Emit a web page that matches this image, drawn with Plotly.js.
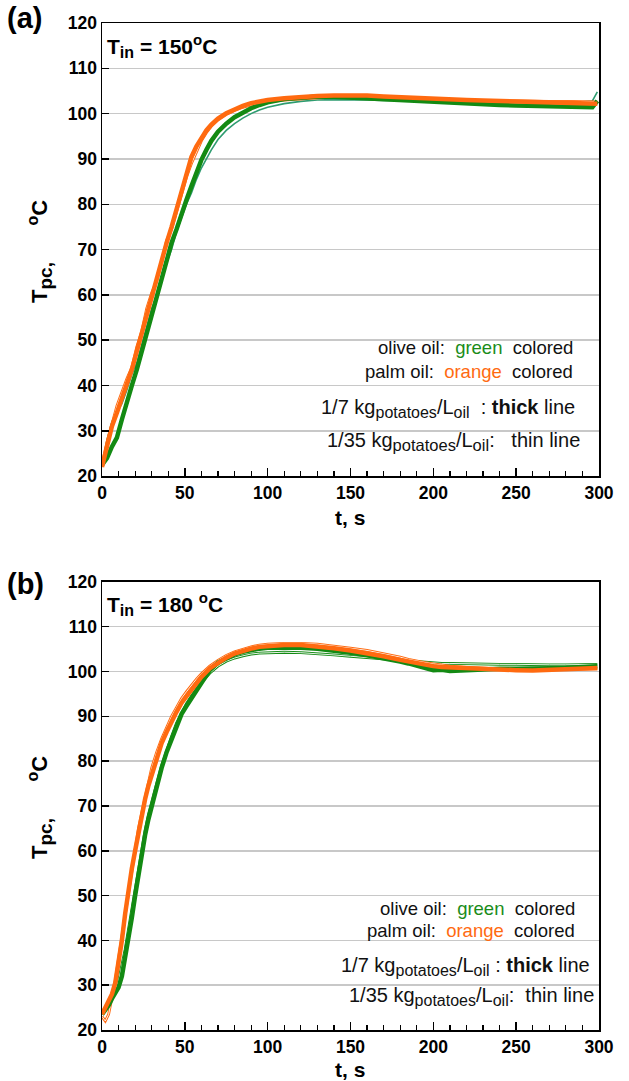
<!DOCTYPE html>
<html><head><meta charset="utf-8">
<script src="https://cdn.plot.ly/plotly-3.0.1.min.js"></script>
<style>body{margin:0;background:#fff}#c{width:629px;height:1081px}</style>
</head><body><div id="c"></div>
<script>
// ---- Panel (a): T_in = 150 °C ----
const tA = [0,3,6,9,12,15,18,21,24,27,30,33,36,39,42,45,48,51,54,57,60,63,66,70,75,80,85,90,95,100,110,120,130,140,150,160,170,180,190,200,210,220,230,240,250,260,270,280,290,296,299];
const palmThickA  = [22,26.5,31,34,37,40,43.5,47.5,51.5,56,60,63.5,67.5,71.5,75,79,83,86.8,90.5,92.8,94.8,96.3,97.6,98.9,100.1,101,101.7,102.3,102.7,103,103.4,103.7,103.9,104,104.1,104,103.8,103.6,103.5,103.3,103.1,103,102.9,102.8,102.7,102.6,102.6,102.5,102.4,102.3,102.2];
const palmThinA   = [22.5,27.5,31.5,35.5,38.5,41.5,44,48.5,52,57,60.5,63,67,72,74.5,78.5,82.5,86,89,91.5,94,95.8,97.2,98.6,99.8,100.7,101.4,101.9,102.3,102.6,103,103.3,103.5,103.6,103.6,103.5,103.4,103.3,103.2,103.1,103,102.9,102.9,102.8,102.8,102.7,102.7,102.7,102.6,102.6,102.6];
const oliveThickA = [22.5,24,26.5,28.5,32.5,36.5,40,43.5,47.5,51.5,55.5,60,64,67.5,71.5,74.5,78,81,84,87.2,89.8,92,94,96,97.8,99.2,100.3,101.2,101.9,102.5,103.2,103.6,103.8,103.7,103.5,103.3,103.1,102.9,102.7,102.5,102.4,102.2,102.1,101.9,101.8,101.7,101.7,101.6,101.5,101.4,102.8];
const oliveThinA  = [22,28,32,34,36,39,42.5,45,49,53.5,57,59.5,64,67,70,74,77,80,82.5,85.5,88,90,92,94.3,96.3,97.8,99,100,100.8,101.4,102.2,102.7,103,103.1,103.1,103,102.9,102.9,102.8,102.8,102.7,102.7,102.7,102.6,102.6,102.6,102.6,102.6,102.6,102.8,104.8];

// ---- Panel (b): T_in = 180 °C ----
const tB = [0,2,4,6,8,10,12,14,16,18,20,22,24,26,28,30,33,36,39,42,45,48,51,54,57,60,65,70,75,80,85,90,95,100,110,120,130,140,150,160,170,180,185,190,195,200,205,210,220,230,240,250,260,270,280,290,299];
const palmThickB  = [23.5,25,26.5,28,30.5,35,40,46,52,56,60,64,68,71.5,74.5,77,81,84,86.5,89,91,93,94.5,96,97.5,98.8,100.7,102,103.1,104,104.6,105.1,105.5,105.7,105.9,105.9,105.6,105.2,104.7,104.1,103.4,102.6,102.2,101.8,101.5,101.2,101,100.9,100.7,100.6,100.5,100.3,100.2,100.3,100.4,100.6,100.8];
const palmThinB   = [23,22,23.5,27,31,36,41,45,50.5,55,61,65,68.5,72,75.5,78.5,82,85,87.5,90,92,94,95.5,97,98.3,99.5,101.2,102.5,103.6,104.4,105,105.5,105.9,106.1,106.3,106.3,106.1,105.7,105.2,104.7,104,103.2,102.7,102.3,102,101.7,101.4,101.2,100.9,100.7,100.6,100.5,100.4,100.4,100.5,100.5,100.6];
const oliveThickB = [23.5,24.5,25.5,27,28.5,29.5,32,36,40,45,50,55,60,63.5,67,70,74,78.5,82,85,88,90.5,92.3,94,95.8,97.5,100.3,102,103,103.8,104.4,104.8,105.1,105.3,105.4,105.3,105.1,104.7,104.2,103.6,103,102.2,101.8,101.3,100.8,100.3,100.4,100.1,100.3,100.5,100.6,100.6,100.6,100.7,100.8,101,101.2];
const oliveThinB  = [24,25,26,27.5,29,31,34.5,38,42.5,47,52,56.5,61,64.5,68,71,75,79,82.5,85.5,88.5,90.8,92.8,94.5,96,97.5,99.6,101.2,102.3,103,103.5,103.9,104.1,104.2,104.3,104.2,104,103.7,103.4,103.1,102.8,102.5,102.4,102.2,102.1,101.9,101.8,101.8,101.7,101.7,101.6,101.6,101.5,101.5,101.5,101.5,101.6];

const yTicks = [20,30,40,50,60,70,80,90,100,110,120];
const xTicks = [0,50,100,150,200,250,300];

const GREEN = '#138a13', TEAL = '#2e9c70', ORANGE = '#ff6a10';

function tr(x, y, color, w, xa, ya){
  return {x:x, y:y, type:'scatter', mode:'lines', line:{color:color, width:w}, xaxis:xa, yaxis:ya, showlegend:false, hoverinfo:'skip'};
}
const data = [
  tr(tA, oliveThinA, TEAL, 1.6, 'x', 'y'),
  tr(tA, palmThinA, ORANGE, 2.8, 'x', 'y'),
  tr(tA, palmThinA, '#ffffff', 0.9, 'x', 'y'),
  tr(tA, oliveThickA, GREEN, 4.5, 'x', 'y'),
  tr(tA, palmThickA, ORANGE, 4.5, 'x', 'y'),
  tr(tB, oliveThinB, GREEN, 2.8, 'x2', 'y2'),
  tr(tB, oliveThinB, '#ffffff', 0.9, 'x2', 'y2'),
  tr(tB, palmThinB, ORANGE, 2.8, 'x2', 'y2'),
  tr(tB, palmThinB, '#ffffff', 0.9, 'x2', 'y2'),
  tr(tB, oliveThickB, GREEN, 4.5, 'x2', 'y2'),
  tr(tB, palmThickB, ORANGE, 4.5, 'x2', 'y2')
];

const FONT = 'Liberation Sans, Arial, Helvetica, sans-serif';
function xax(anchor){
  return {anchor:anchor, range:[0,300], tickvals:xTicks, ticktext:xTicks.map(String), ticks:'inside', ticklen:8, tickwidth:1.5, tickcolor:'#000',
    minor:{dtick:10, ticks:'inside', ticklen:5, tickwidth:1.2, tickcolor:'#000'},
    showline:true, mirror:true, linecolor:'#000', linewidth:1.5, showgrid:false, zeroline:false,
    tickfont:{family:FONT, size:17.5, color:'#000', weight:'bold'}};
}
function yax(anchor, domain){
  return {anchor:anchor, domain:domain, range:[20,120], tickvals:yTicks, ticktext:yTicks.map(String), ticks:'inside', ticklen:7, tickwidth:1.5, tickcolor:'#000',
    showline:true, mirror:true, linecolor:'#000', linewidth:1.5, showgrid:true, gridcolor:'#c8c8c8', gridwidth:1.5, zeroline:false,
    tickfont:{family:FONT, size:17.5, color:'#000', weight:'bold'}};
}

function ann(text, x, y, xref, yref, opts){
  return Object.assign({text:text, x:x, y:y, xref:xref, yref:yref, showarrow:false, xanchor:'center', yanchor:'middle', font:{family:FONT, size:18.5, color:'#111'}}, opts||{});
}
const NB = '\u00a0';
const sub = (s, px) => '<sub><span style="font-size:' + px + 'px">' + s + '</span></sub>';
const kgFont = {family:FONT, size:20, color:'#111'};
const kgLine7a  = '1/7 kg' + sub('potatoes',16) + '/L' + sub('oil',16) + NB + NB + ': <b>thick</b> line';
const kgLine7b  = '1/7 kg' + sub('potatoes',16) + '/L' + sub('oil',16) + ' : <b>thick</b> line';
const kgLine35a = '1/35 kg' + sub('potatoes',16.5) + '/L' + sub('oil',16.5) + ':' + NB + NB + NB + 'thin line';
const kgLine35b = '1/35 kg' + sub('potatoes',16) + '/L' + sub('oil',16) + ':' + NB + NB + 'thin line';
const colorLine = (oil, word, col) => oil + ':' + NB + NB + '<span style="color:' + col + '">' + word + '</span>' + NB + NB + 'colored';
const tinText = v => '<b>T<sub><span style="font-size:16px">in</span></sub> = ' + v + '<sup><span style="font-size:15px">o</span></sup>C</b>';
const yTitle = '<b>T' + sub('pc,', 19) + NB + NB + NB + NB + NB + NB + '<sup><span style="font-size:16px">o</span></sup>C</b>';
const titleFont = {family:FONT, size:21, color:'#000'};
const annotations = [
  ann('<b>(a)</b>', 5, 18, 'paper', 'paper', {xanchor:'left', font:{family:FONT,size:29,color:'#000'}}),
  ann('<b>(b)</b>', 5, 584, 'paper', 'paper', {xanchor:'left', font:{family:FONT,size:29,color:'#000'}}),
  ann(tinText('150'), 2, 115, 'x', 'y', {xanchor:'left', font:titleFont}),
  ann(tinText('180 '), 2, 115, 'x2', 'y2', {xanchor:'left', font:titleFont}),
  ann(yTitle, 40, 252, 'paper', 'paper', {textangle:-90, font:{family:FONT, size:22, color:'#000'}}),
  ann(yTitle, 40, 808, 'paper', 'paper', {textangle:-90, font:{family:FONT, size:22, color:'#000'}}),
  ann('<b>t, s</b>', 350, 517, 'paper', 'paper', {font:titleFont}),
  ann('<b>t, s</b>', 350, 1069, 'paper', 'paper', {font:titleFont}),
  // notes panel a
  ann(colorLine('olive oil', 'green', '#1a8c1a'), 285.5, 48.3, 'x', 'y', {xanchor:'right'}),
  ann(colorLine('palm oil', 'orange', '#ff6a10'), 285.5, 43, 'x', 'y', {xanchor:'right'}),
  ann(kgLine7a, 286.5, 35, 'x', 'y', {xanchor:'right', font:kgFont}),
  ann(kgLine35a, 289.5, 27.7, 'x', 'y', {xanchor:'right', font:kgFont}),
  // notes panel b
  ann(colorLine('olive oil', 'green', '#1a8c1a'), 286.5, 47.2, 'x2', 'y2', {xanchor:'right'}),
  ann(colorLine('palm oil', 'orange', '#ff6a10'), 286.5, 42.1, 'x2', 'y2', {xanchor:'right'}),
  ann(kgLine7b, 296, 34.2, 'x2', 'y2', {xanchor:'right', font:kgFont}),
  ann(kgLine35b, 298, 27.5, 'x2', 'y2', {xanchor:'right', font:kgFont})
];
// convert pixel-based paper annotations
const W=629, H=1081, L=102, R=30, T=23, B=51;
annotations.forEach(a=>{
  if(a.xref==='paper') a.x = (a.x - L)/(W-L-R);
  if(a.yref==='paper') a.y = 1 - (a.y - T)/(H-T-B);
});

const layout = {
  width:W, height:H, margin:{l:L, r:R, t:T, b:B}, paper_bgcolor:'#fff', plot_bgcolor:'#fff',
  showlegend:false,
  xaxis: xax('y'), yaxis: yax('x', [0.550, 1]),
  xaxis2: xax('y2'), yaxis2: yax('x2', [0, 0.445]),
  annotations: annotations,
  font:{family:FONT}
};
Plotly.newPlot('c', data, layout, {staticPlot:true, displayModeBar:false});
</script></body></html>
